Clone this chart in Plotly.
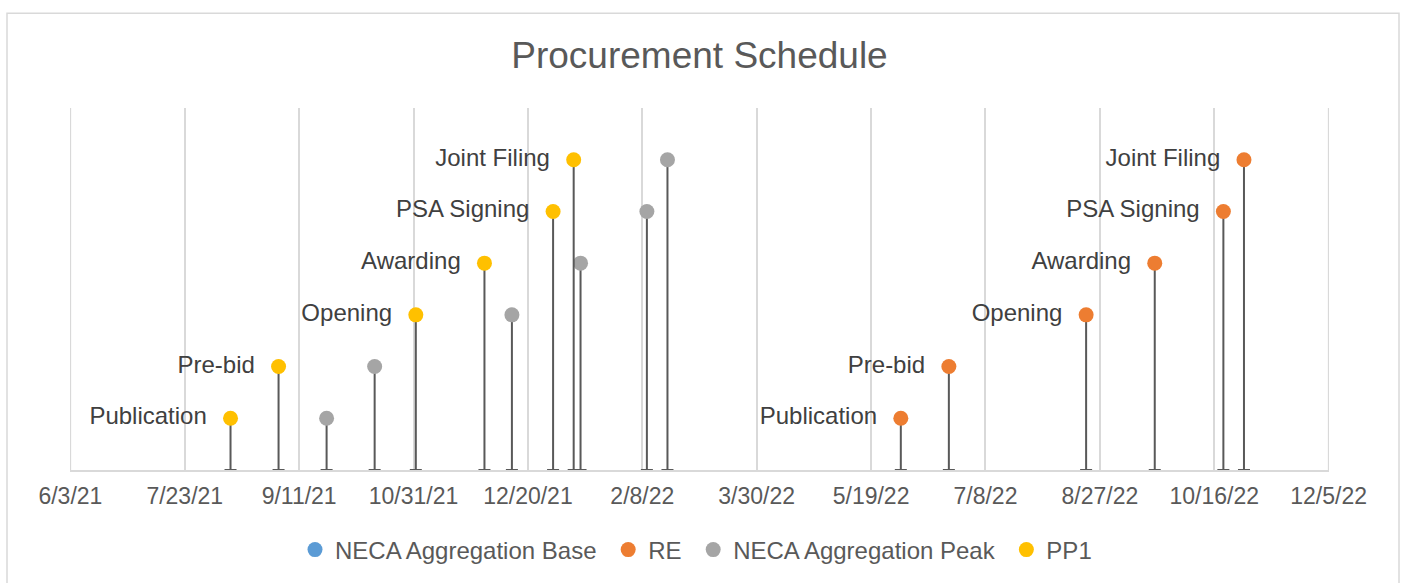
import plotly.graph_objects as go

# milestones of each procurement, level 1..6 on the hidden y axis
stages = ["Publication", "Pre-bid", "Opening", "Awarding", "PSA Signing", "Joint Filing"]
stage_levels = [1, 2, 3, 4, 5, 6]

pp1_dates = ["2021-08-12", "2021-09-02", "2021-11-01", "2021-12-01", "2021-12-31", "2022-01-09"]
peak_dates = ["2021-09-23", "2021-10-14", "2021-12-13", "2022-01-12", "2022-02-10", "2022-02-19"]
re_dates = ["2022-06-01", "2022-06-22", "2022-08-21", "2022-09-20", "2022-10-20", "2022-10-29"]
base_dates = []

tick_dates = ["2021-06-03", "2021-07-23", "2021-09-11", "2021-10-31", "2021-12-20", "2022-02-08",
              "2022-03-30", "2022-05-19", "2022-07-08", "2022-08-27", "2022-10-16", "2022-12-05"]
tick_labels = ["6/3/21", "7/23/21", "9/11/21", "10/31/21", "12/20/21", "2/8/22",
               "3/30/22", "5/19/22", "7/8/22", "8/27/22", "10/16/22", "12/5/22"]

FONT = "Liberation Sans, Arial, sans-serif"
W, H = 1407, 583
ML, MR, MT, MB = 70, 78, 108, 112

fig = go.Figure()


def add_series(name, dates, color, labels=False):
    levels = stage_levels[:len(dates)]
    fig.add_trace(go.Scatter(
        name=name + " ",
        x=dates if dates else [None],
        y=levels if dates else [None],
        mode="markers+text" if labels else "markers",
        text=[s + "  " for s in stages] if labels else None,
        textposition="middle left",
        textfont=dict(family=FONT, size=24, color="#404040"),
        marker=dict(color=color, size=15),
        error_y=dict(type="data", symmetric=False, array=[0] * len(levels),
                     arrayminus=levels, color="#595959", thickness=2, width=6),
        cliponaxis=False,
    ))


add_series("NECA Aggregation Base", base_dates, "#5B9BD5")
add_series("RE", re_dates, "#ED7D31", labels=True)
add_series("NECA Aggregation Peak", peak_dates, "#A5A5A5")
add_series("PP1", pp1_dates, "#FFC000", labels=True)

# chart-area border (excel style), placed in pixels
pw, ph = W - ML - MR, H - MT - MB
def px_x(p):
    return (p - ML) / pw
def px_y(p):
    return (H - MB - p) / ph

fig.add_shape(type="rect", xref="paper", yref="paper",
              x0=px_x(7), x1=px_x(1399), y0=px_y(600), y1=px_y(13),
              line=dict(color="#d9d9d9", width=1.5), fillcolor="rgba(0,0,0,0)", layer="below")

# plotly drops the gridlines sitting on the range edges, draw them back
for d in (tick_dates[0], tick_dates[-1]):
    fig.add_shape(type="line", xref="x", yref="paper", x0=d, x1=d, y0=0, y1=1,
                  line=dict(color="#d9d9d9", width=1.5), layer="below")

fig.update_layout(
    width=W, height=H,
    margin=dict(l=ML, r=MR, t=MT, b=MB),
    paper_bgcolor="white", plot_bgcolor="white",
    title=dict(text="Procurement Schedule", x=0.5, xref="paper", xanchor="center",
               y=1 - 55 / H, yanchor="middle",
               font=dict(family=FONT, size=37, color="#595959")),
    font=dict(family=FONT, color="#595959"),
    showlegend=True,
    legend=dict(orientation="h", x=0.5, xanchor="center", y=px_y(550), yanchor="middle",
                font=dict(family=FONT, size=24, color="#595959"), itemwidth=30,
                traceorder="normal"),
    xaxis=dict(
        type="date", range=["2021-06-02 20:00", "2022-12-05 04:00"],
        tickmode="array", tickvals=tick_dates, ticktext=tick_labels,
        tickfont=dict(family=FONT, size=23, color="#595959"),
        ticklabelstandoff=5,
        showgrid=True, gridcolor="#d9d9d9", gridwidth=1.5,
        showline=True, linecolor="#d9d9d9", linewidth=1.5,
        ticks="", ticklen=0, zeroline=False,
    ),
    yaxis=dict(range=[0, 7], visible=False, showgrid=False, zeroline=False),
)

fig.write_html("out.html", config={"displayModeBar": False},
               post_script="document.body.style.margin='0';")
